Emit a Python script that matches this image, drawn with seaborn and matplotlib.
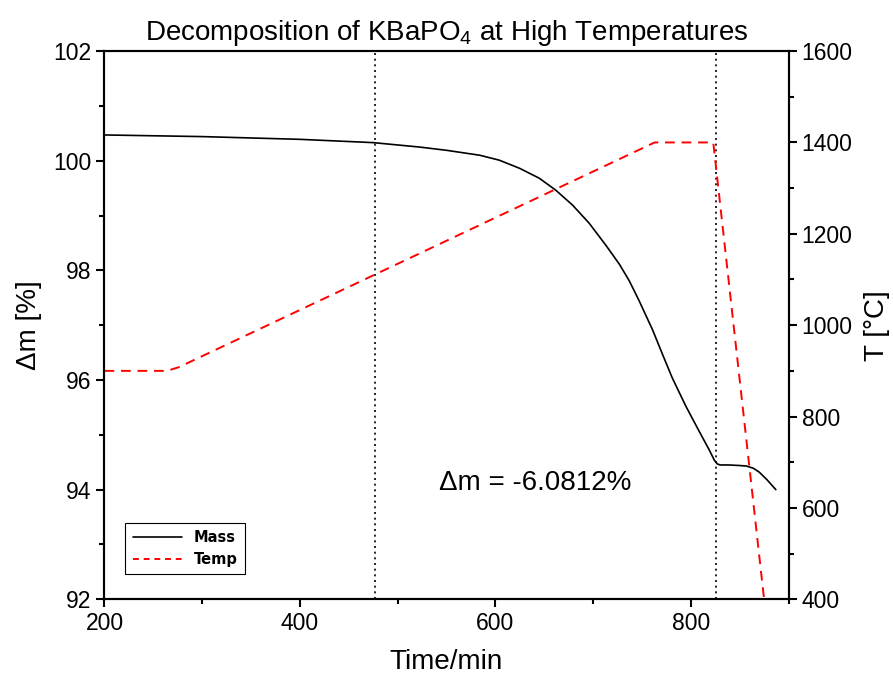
import matplotlib
matplotlib.use("Agg")
import matplotlib.pyplot as plt
import seaborn as sns
import pandas as pd
from matplotlib.ticker import MultipleLocator
from matplotlib.lines import Line2D

# ---- data ----
mass_time = [200, 300, 400, 475, 522, 550, 584, 604, 625, 645, 662, 679, 696, 713, 727,
             737, 747, 761, 771, 781, 795, 809, 819, 824, 827, 830, 839, 850, 857, 864, 870, 878, 887]
mass_value = [100.47, 100.44, 100.39, 100.33, 100.25, 100.19, 100.10, 100.01, 99.86, 99.68,
              99.46, 99.19, 98.86, 98.46, 98.11, 97.81, 97.45, 96.91, 96.47, 96.04, 95.52,
              95.05, 94.72, 94.54, 94.47, 94.45, 94.45, 94.44, 94.43, 94.39, 94.32, 94.18, 94.00]
temp_time = [200, 264, 276, 763, 823, 875]
temp_value = [900, 900, 908, 1400, 1400, 400]
marker_times = [477, 826]
title_text = "Decomposition of KBaPO$_4$ at High Temperatures"
annotation_text = "\u0394m = -6.0812%"

sns.set_style("ticks")
plt.rcParams["font.family"] = ["Liberation Sans", "DejaVu Sans"]
plt.rcParams["mathtext.fontset"] = "custom"
plt.rcParams["mathtext.rm"] = "Liberation Sans"
plt.rcParams["mathtext.it"] = "Liberation Sans"
plt.rcParams["mathtext.default"] = "rm"
for k in ["text.color", "axes.labelcolor", "xtick.color", "ytick.color", "axes.edgecolor"]:
    plt.rcParams[k] = "black"

mass_df = pd.DataFrame({"time": mass_time, "mass": mass_value})
temp_df = pd.DataFrame({"time": temp_time, "temp": temp_value})

fig = plt.figure(figsize=(8.93, 6.81), dpi=100)
ax = fig.add_axes([0.117, 0.120, 0.766, 0.805])
ax2 = ax.twinx()

sns.lineplot(data=mass_df, x="time", y="mass", ax=ax, color="black", lw=1.2)
sns.lineplot(data=temp_df, x="time", y="temp", ax=ax2, color="#ff0000", lw=1.4,
             linestyle=(0, (5, 3.5)))

for t in marker_times:
    ax.axvline(t, color="black", lw=1.2, linestyle=(0, (1.2, 2.2)), zorder=1)

ax.set_xlim(200, 900)
ax.set_ylim(92, 102)
ax2.set_ylim(400, 1600)

ax.xaxis.set_major_locator(MultipleLocator(200))
ax.xaxis.set_minor_locator(MultipleLocator(100))
ax.yaxis.set_major_locator(MultipleLocator(2))
ax.yaxis.set_minor_locator(MultipleLocator(1))
ax2.yaxis.set_major_locator(MultipleLocator(200))
ax2.yaxis.set_minor_locator(MultipleLocator(100))

for a in (ax, ax2):
    for s in a.spines.values():
        s.set_linewidth(1.5)
        s.set_visible(True)
        s.set_color("black")
    a.tick_params(which="major", length=6, width=1.5, direction="out", labelsize=16.5,
                  color="black", labelcolor="black")
    a.tick_params(which="minor", length=3.5, width=1.5, direction="out", color="black")
ax.tick_params(axis="both", which="both", top=False, right=False)
ax2.tick_params(axis="y", which="both", left=False, right=True)

ax.set_xlabel("Time/min", fontsize=20, labelpad=10, color="black")
ax.set_ylabel("\u0394m [%]", fontsize=20, labelpad=8, color="black")
ax2.set_ylabel("T [\u00b0C]", fontsize=20, labelpad=8, color="black")
ax.set_title(title_text, fontsize=20, pad=8, color="black")

ax.text(641, 94.13, annotation_text, fontsize=20, ha="center", va="center", color="black")

handles = [Line2D([], [], color="black", lw=1.2),
           Line2D([], [], color="#ff0000", lw=1.4, linestyle=(0, (3, 2.5)))]
leg = ax.legend(handles, ["Mass", "Temp"], loc="lower left",
                bbox_to_anchor=(0.0197, 0.033), fancybox=False, framealpha=1,
                edgecolor="black", handlelength=3.4, borderpad=0.5, labelspacing=0.45,
                prop={"family": "DejaVu Sans", "weight": "bold", "size": 10.5})
leg.get_frame().set_linewidth(0.8)
for txt in leg.get_texts():
    txt.set_color("black")
if ax2.get_legend():
    ax2.get_legend().remove()

fig.savefig("out.png", dpi=100)
